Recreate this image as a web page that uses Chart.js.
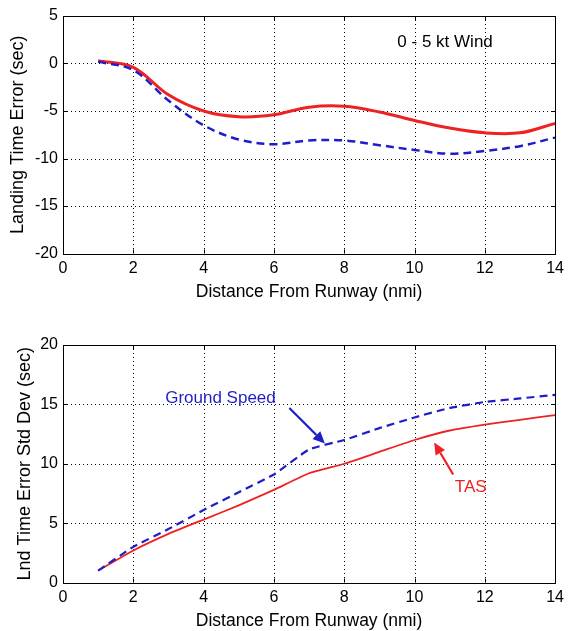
<!DOCTYPE html>
<html>
<head>
<meta charset="utf-8">
<script src="https://cdn.jsdelivr.net/npm/chart.js@4/dist/chart.umd.min.js"></script>
<style>
    body { margin: 0; background: #fff; }
    .box { position: absolute; left: 0; width: 569px; height: 302px; }
</style>
</head>
<body>
<div class="box" style="top:0"><canvas id="meanChart" width="569" height="302"></canvas></div>
<div class="box" style="top:329px"><canvas id="sdChart" width="569" height="302"></canvas></div>
<script>
const distance = [1, 2, 3, 4, 5, 6, 7, 8, 9, 10, 11, 12, 13, 14]
const meanTas = [0.3, -0.4, -3.3, -5.0, -5.6, -5.4, -4.6, -4.5, -5.1, -6.0, -6.8, -7.3, -7.3, -6.3]
const meanGroundSpeed = [0.2, -0.7, -3.9, -6.5, -8.0, -8.5, -8.1, -8.1, -8.6, -9.1, -9.5, -9.2, -8.7, -7.8]
const sdTas = [1.0, 2.7, 4.1, 5.3, 6.5, 7.8, 9.2, 10.0, 11.0, 12.0, 12.8, 13.3, 13.7, 14.1]
const sdGroundSpeed = [1.0, 3.0, 4.5, 6.1, 7.6, 9.1, 11.2, 12.0, 13.0, 13.9, 14.7, 15.2, 15.5, 15.8]
const xTicks = [0, 2, 4, 6, 8, 10, 12, 14]

const red = '#ee2222'
const blue = '#1e1ec8'
const fontFamily = '"Liberation Sans", Arial, Helvetica, sans-serif'

const toPoints = (ys) => distance.map((x, i) => ({ x: x, y: ys[i] }))

// dotted grid under the lines, boxed frame with inward ticks on top
const matlabAxes = {
    id: 'matlabAxes',
    beforeDatasetsDraw(chart) {
        const { ctx, chartArea: a, scales: { x, y } } = chart
        ctx.save()
        ctx.strokeStyle = '#000'
        ctx.lineWidth = 1
        ctx.setLineDash([1, 3])
        x.ticks.forEach(t => {
            const px = Math.round(x.getPixelForValue(t.value)) + 0.5
            ctx.beginPath(); ctx.moveTo(px, a.top); ctx.lineTo(px, a.bottom); ctx.stroke()
        })
        y.ticks.forEach(t => {
            const py = Math.round(y.getPixelForValue(t.value)) + 0.5
            ctx.beginPath(); ctx.moveTo(a.left, py); ctx.lineTo(a.right, py); ctx.stroke()
        })
        ctx.restore()
    },
    afterDatasetsDraw(chart) {
        const { ctx, chartArea: a, scales: { x, y } } = chart
        ctx.save()
        ctx.strokeStyle = '#000'
        ctx.lineWidth = 1
        ctx.strokeRect(Math.round(a.left) + 0.5, Math.round(a.top) + 0.5,
            Math.round(a.right - a.left), Math.round(a.bottom - a.top))
        const tl = 4
        x.ticks.forEach(t => {
            const px = Math.round(x.getPixelForValue(t.value)) + 0.5
            ctx.beginPath()
            ctx.moveTo(px, a.bottom); ctx.lineTo(px, a.bottom - tl)
            ctx.moveTo(px, a.top); ctx.lineTo(px, a.top + tl)
            ctx.stroke()
        })
        y.ticks.forEach(t => {
            const py = Math.round(y.getPixelForValue(t.value)) + 0.5
            ctx.beginPath()
            ctx.moveTo(a.left, py); ctx.lineTo(a.left + tl, py)
            ctx.moveTo(a.right, py); ctx.lineTo(a.right - tl, py)
            ctx.stroke()
        })
        ctx.restore()
    },
}

// text labels and arrows, placed in data units
const notes = {
    id: 'notes',
    afterDraw(chart, args, opts) {
        const { ctx, scales: { x, y } } = chart
        ctx.save()
        ;(opts.labels || []).forEach(l => {
            ctx.font = '17px ' + fontFamily
            ctx.fillStyle = l.color
            ctx.textAlign = 'center'
            ctx.textBaseline = 'middle'
            ctx.fillText(l.text, x.getPixelForValue(l.x), y.getPixelForValue(l.y))
        })
        ;(opts.arrows || []).forEach(ar => {
            const x0 = x.getPixelForValue(ar.from[0]), y0 = y.getPixelForValue(ar.from[1])
            const x1 = x.getPixelForValue(ar.to[0]), y1 = y.getPixelForValue(ar.to[1])
            const ang = Math.atan2(y1 - y0, x1 - x0)
            const head = 12, half = 5.5
            ctx.strokeStyle = ar.color
            ctx.fillStyle = ar.color
            ctx.lineWidth = 2.2
            ctx.beginPath()
            ctx.moveTo(x0, y0)
            ctx.lineTo(x1 - head * Math.cos(ang), y1 - head * Math.sin(ang))
            ctx.stroke()
            ctx.beginPath()
            ctx.moveTo(x1, y1)
            ctx.lineTo(x1 - head * Math.cos(ang) + half * Math.sin(ang), y1 - head * Math.sin(ang) - half * Math.cos(ang))
            ctx.lineTo(x1 - head * Math.cos(ang) - half * Math.sin(ang), y1 - head * Math.sin(ang) + half * Math.cos(ang))
            ctx.closePath()
            ctx.fill()
        })
        ctx.restore()
    },
}

function makeChart(id, opts) {
    const ctx = document.getElementById(id).getContext('2d')
    return new Chart(ctx, {
        type: 'line',
        data: {
            datasets: [
                {
                    label: 'Ground Speed',
                    data: toPoints(opts.gs),
                    borderColor: blue,
                    borderWidth: opts.gsWidth,
                    borderDash: [8, 5],
                    pointRadius: 0,
                    tension: opts.tension,
                    fill: false,
                },
                {
                    label: 'TAS',
                    data: toPoints(opts.tas),
                    borderColor: red,
                    borderWidth: opts.tasWidth,
                    pointRadius: 0,
                    tension: opts.tension,
                    fill: false,
                },
            ],
        },
        options: {
            responsive: false,
            animation: false,
            events: [],
            layout: { padding: { top: 16, right: 7, left: 0, bottom: 0 } },
            plugins: {
                legend: { display: false },
                tooltip: { enabled: false },
                notes: { labels: opts.labels, arrows: opts.arrows },
            },
            scales: {
                x: {
                    type: 'linear',
                    min: 0,
                    max: 14,
                    afterBuildTicks: (s) => { s.ticks = xTicks.map(v => ({ value: v })) },
                    afterFit: (s) => { s.height = 48.5 },
                    grid: { display: false, drawTicks: false },
                    border: { display: false },
                    ticks: {
                        color: '#000',
                        padding: 5,
                        maxRotation: 0,
                        font: { family: fontFamily, size: 16 },
                    },
                    title: {
                        display: true,
                        text: 'Distance From Runway (nmi)',
                        color: '#000',
                        padding: { top: 0, bottom: -1 },
                        font: { family: fontFamily, size: 17.5 },
                    },
                },
                y: {
                    min: opts.yMin,
                    max: opts.yMax,
                    afterBuildTicks: (s) => { s.ticks = opts.yTicks.map(v => ({ value: v })) },
                    afterFit: (s) => { s.width = 63 },
                    grid: { display: false, drawTicks: false },
                    border: { display: false },
                    ticks: {
                        color: '#000',
                        padding: 5,
                        font: { family: fontFamily, size: 16 },
                    },
                    title: {
                        display: true,
                        text: opts.yTitle,
                        color: '#000',
                        padding: { top: opts.yTitlePad, bottom: 0 },
                        font: { family: fontFamily, size: 18 },
                    },
                },
            },
        },
        plugins: [matlabAxes, notes],
    })
}

makeChart('meanChart', {
    tas: meanTas,
    gs: meanGroundSpeed,
    tasWidth: 3,
    gsWidth: 2.5,
    tension: 0.35,
    yMin: -20,
    yMax: 5,
    yTicks: [-20, -15, -10, -5, 0, 5],
    yTitle: 'Landing Time Error (sec)',
    yTitlePad: 7,
    labels: [{ text: '0 - 5 kt Wind', x: 10.87, y: 2.25, color: '#000' }],
    arrows: [],
})

makeChart('sdChart', {
    tas: sdTas,
    gs: sdGroundSpeed,
    tasWidth: 1.8,
    gsWidth: 2.2,
    tension: 0.15,
    yMin: 0,
    yMax: 20,
    yTicks: [0, 5, 10, 15, 20],
    yTitle: 'Lnd Time Error Std Dev (sec)',
    yTitlePad: 14,
    labels: [
        { text: 'Ground Speed', x: 4.48, y: 15.5, color: blue },
        { text: 'TAS', x: 11.6, y: 8.0, color: red },
    ],
    arrows: [
        { from: [6.44, 14.7], to: [7.45, 11.7], color: blue },
        { from: [11.1, 9.1], to: [10.56, 11.8], color: red },
    ],
})
</script>
</body>
</html>
